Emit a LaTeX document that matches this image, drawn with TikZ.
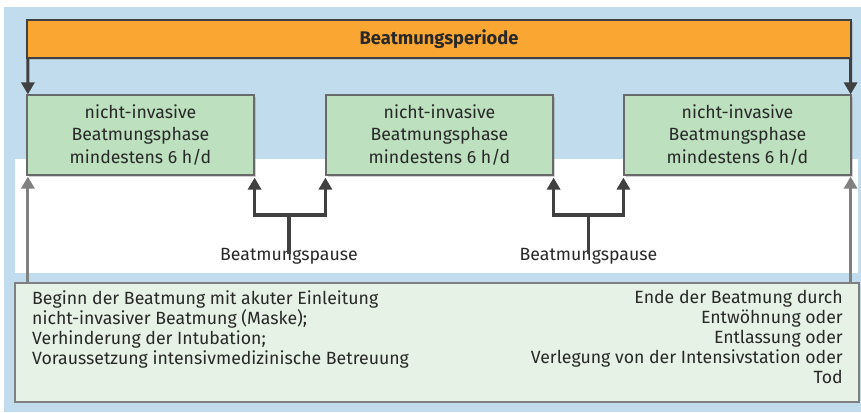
\documentclass[tikz,border=0pt]{standalone}
\usepackage{fontspec}
\setmainfont{Fira Sans}
\usetikzlibrary{arrows.meta,shadows,calc}
\definecolor{bgblue}{RGB}{193,221,237}
\definecolor{barorange}{RGB}{249,166,51}
\definecolor{phasegreen}{RGB}{189,224,191}
\definecolor{lowgreen}{RGB}{230,242,230}
\definecolor{darkline}{RGB}{64,64,64}
\definecolor{grayline}{RGB}{128,128,128}
\definecolor{boxborder}{RGB}{105,105,105}
\definecolor{txt}{RGB}{40,40,40}
\tikzset{
  phasebox/.style={draw=boxborder, line width=1.2bp, fill=phasegreen,
    minimum width=227bp, minimum height=80bp, align=center, inner sep=0pt,
    font=\fontsize{17.7bp}{22.5bp}\selectfont, text=txt,
    drop shadow={opacity=0.35, shadow xshift=2bp, shadow yshift=-2bp}},
  barbox/.style={draw=darkline, line width=1.2bp, fill=barorange,
    minimum width=824bp, minimum height=38bp, inner sep=0pt,
    font=\fontsize{18.3bp}{20bp}\selectfont\bfseries, text=txt,
    drop shadow={opacity=0.3, shadow xshift=1.5bp, shadow yshift=-1.5bp}},
  lowbox/.style={draw=grayline, line width=1.5bp, fill=lowgreen,
    minimum width=844bp, minimum height=119bp, inner sep=0pt},
  lowtext/.style={font=\fontsize{17.7bp}{20bp}\selectfont, text=txt, inner sep=0pt},
  darr/.style={draw=darkline, line width=3.2bp, -{Triangle[width=13bp,length=12bp]}},
  garr/.style={draw=grayline, line width=3bp, -{Triangle[width=13bp,length=12bp]}},
  bracket/.style={draw=darkline, line width=3.2bp, {Triangle[width=13bp,length=12bp]}-{Triangle[width=13bp,length=12bp]}},
  stem/.style={draw=darkline, line width=3.6bp},
  pauselabel/.style={font=\fontsize{17.7bp}{20bp}\selectfont, text=txt, inner sep=0pt}
}
\begin{document}
\begin{tikzpicture}[x=1bp,y=-1bp]
\useasboundingbox (0,0) rectangle (861,412);
% background
\fill[bgblue] (4,7) rectangle (861,412);
\fill[white] (15,159) rectangle (858,273);
% period bar
\node[barbox] (bar) at (439,39) {Beatmungsperiode};
% phase boxes
\node[phasebox] (p1) at (140.5,135) {nicht-invasive\\Beatmungsphase\\mindestens 6 h/d};
\node[phasebox] (p2) at (439.5,135) {nicht-invasive\\Beatmungsphase\\mindestens 6 h/d};
\node[phasebox] (p3) at (737.5,135) {nicht-invasive\\Beatmungsphase\\mindestens 6 h/d};
% lower box
\node[lowbox] (low) at (437,342.5) {};
\node[lowtext, anchor=north west, align=left] (begin) at (32,290.5)
  {Beginn der Beatmung mit akuter Einleitung\\nicht-invasiver Beatmung (Maske);\\Verhinderung der Intubation;\\Voraussetzung intensivmedizinische Betreuung};
\node[lowtext, anchor=north east, align=right] (end) at (843,290.5)
  {Ende der Beatmung durch\\Entwöhnung oder\\Entlassung oder\\Verlegung von der Intensivstation oder\\Tod};
% arrows from bar
\draw[darr] ([xshift=1.5bp]bar.south west) -- ([xshift=1.5bp]p1.north west);
\draw[darr] ([xshift=-1bp]bar.south east) -- ([xshift=-1bp]p3.north east);
% gray arrows from lower box
\draw[garr] ([xshift=1.5bp]p1.west |- low.north) -- ([xshift=1.5bp,yshift=-1bp]p1.south west);
\draw[garr] ([xshift=-1bp]p3.east |- low.north) -- ([xshift=-1bp,yshift=-1bp]p3.south east);
% pauses
\node[pauselabel, anchor=base] (pause1) at (289,260) {Beatmungspause};
\node[pauselabel, anchor=base] (pause2) at (588.5,260) {Beatmungspause};
\coordinate (j1) at (289,215);
\coordinate (j2) at (588.5,215);
\draw[bracket, line join=miter] ([yshift=-2bp]p1.south east) -- (p1.south east |- j1) -- (p2.south west |- j1) -- ([yshift=-2bp]p2.south west);
\draw[bracket, line join=miter] ([yshift=-2bp]p2.south east) -- (p2.south east |- j2) -- (p3.south west |- j2) -- ([yshift=-2bp]p3.south west);
\draw[stem] (j1) -- ([yshift=-6bp]pause1.north);
\draw[stem] (j2) -- ([yshift=-6bp]pause2.north);
\end{tikzpicture}
\end{document}
